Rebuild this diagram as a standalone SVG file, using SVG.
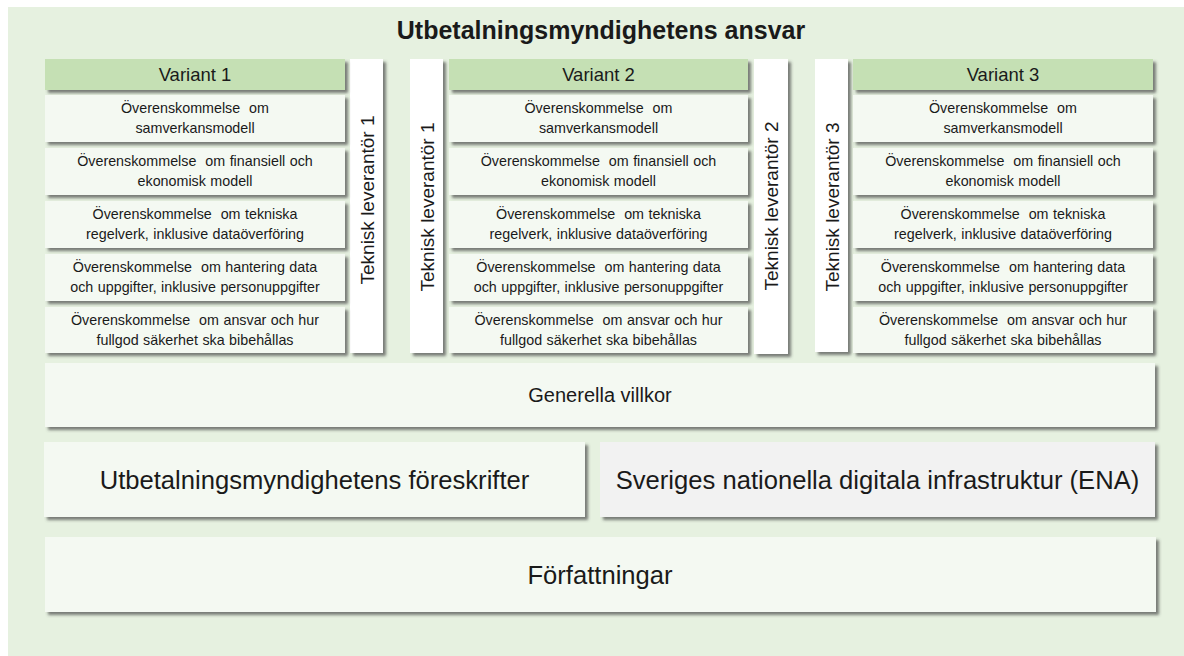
<svg xmlns="http://www.w3.org/2000/svg" width="1184" height="656" viewBox="0 0 1184 656">
<defs>
<filter id="sh" x="-10%" y="-10%" width="130%" height="140%">
<feDropShadow dx="3" dy="3" stdDeviation="1.5" flood-color="#4a4a4a" flood-opacity="0.7"/>
</filter>
</defs>
<style>
text{font-family:"Liberation Sans",Arial,sans-serif;fill:#1a1a1a;text-anchor:middle}
.hdr{fill:#c5e0b4;filter:url(#sh)}
.row{fill:#f4f9f2;filter:url(#sh)}
.tek{fill:#ffffff;filter:url(#sh)}
.ena{fill:#f2f2f2;filter:url(#sh)}
.t13{font-size:14.3px;word-spacing:0.5px}
.t16{font-size:18.5px}
.tv{font-size:19px}
.t22{font-size:25.6px}
</style>
<rect x="8" y="7" width="1176" height="649" fill="#e6f1e0"/>
<text x="601" y="39" style="font-size:25px;font-weight:bold">Utbetalningsmyndighetens ansvar</text>

<g id="tek1a"><rect class="tek" x="350" y="59" width="33" height="294"/><text class="tv" transform="translate(373.5 200) rotate(-90)">Teknisk leverantör 1</text></g>
<g id="tek1b"><rect class="tek" x="410" y="59" width="33" height="294"/><text class="tv" transform="translate(433.5 207) rotate(-90)">Teknisk leverantör 1</text></g>
<g id="tek2"><rect class="tek" x="754" y="59" width="34" height="295"/><text class="tv" transform="translate(778 206) rotate(-90)">Teknisk leverantör 2</text></g>
<g id="tek3"><rect class="tek" x="815" y="59" width="33" height="293"/><text class="tv" transform="translate(838.5 207) rotate(-90)">Teknisk leverantör 3</text></g>

<g id="variant1">
<rect class="hdr" x="45" y="59" width="300" height="31"/><text class="t16" x="195" y="81">Variant 1</text>
<rect class="row" x="45" y="95" width="300" height="47"/><text class="t13" x="195" y="113" xml:space="preserve">Överenskommelse  om</text><text class="t13" x="195" y="133">samverkansmodell</text>
<rect class="row" x="45" y="148" width="300" height="47"/><text class="t13" x="195" y="166" xml:space="preserve">Överenskommelse  om finansiell och</text><text class="t13" x="195" y="186">ekonomisk modell</text>
<rect class="row" x="45" y="201" width="300" height="47"/><text class="t13" x="195" y="219" xml:space="preserve">Överenskommelse  om tekniska</text><text class="t13" x="195" y="239">regelverk, inklusive dataöverföring</text>
<rect class="row" x="45" y="254" width="300" height="47"/><text class="t13" x="195" y="272" xml:space="preserve">Överenskommelse  om hantering data</text><text class="t13" x="195" y="292">och uppgifter, inklusive personuppgifter</text>
<rect class="row" x="45" y="307" width="300" height="46"/><text class="t13" x="195" y="325" xml:space="preserve">Överenskommelse  om ansvar och hur</text><text class="t13" x="195" y="345">fullgod säkerhet ska bibehållas</text>
</g>

<g id="variant2">
<rect class="hdr" x="449" y="59" width="299" height="31"/><text class="t16" x="598.5" y="81">Variant 2</text>
<rect class="row" x="449" y="95" width="299" height="47"/><text class="t13" x="598.5" y="113" xml:space="preserve">Överenskommelse  om</text><text class="t13" x="598.5" y="133">samverkansmodell</text>
<rect class="row" x="449" y="148" width="299" height="47"/><text class="t13" x="598.5" y="166" xml:space="preserve">Överenskommelse  om finansiell och</text><text class="t13" x="598.5" y="186">ekonomisk modell</text>
<rect class="row" x="449" y="201" width="299" height="47"/><text class="t13" x="598.5" y="219" xml:space="preserve">Överenskommelse  om tekniska</text><text class="t13" x="598.5" y="239">regelverk, inklusive dataöverföring</text>
<rect class="row" x="449" y="254" width="299" height="47"/><text class="t13" x="598.5" y="272" xml:space="preserve">Överenskommelse  om hantering data</text><text class="t13" x="598.5" y="292">och uppgifter, inklusive personuppgifter</text>
<rect class="row" x="449" y="307" width="299" height="46"/><text class="t13" x="598.5" y="325" xml:space="preserve">Överenskommelse  om ansvar och hur</text><text class="t13" x="598.5" y="345">fullgod säkerhet ska bibehållas</text>
</g>

<g id="variant3">
<rect class="hdr" x="853" y="59" width="300" height="31"/><text class="t16" x="1003" y="81">Variant 3</text>
<rect class="row" x="853" y="95" width="300" height="47"/><text class="t13" x="1003" y="113" xml:space="preserve">Överenskommelse  om</text><text class="t13" x="1003" y="133">samverkansmodell</text>
<rect class="row" x="853" y="148" width="300" height="47"/><text class="t13" x="1003" y="166" xml:space="preserve">Överenskommelse  om finansiell och</text><text class="t13" x="1003" y="186">ekonomisk modell</text>
<rect class="row" x="853" y="201" width="300" height="47"/><text class="t13" x="1003" y="219" xml:space="preserve">Överenskommelse  om tekniska</text><text class="t13" x="1003" y="239">regelverk, inklusive dataöverföring</text>
<rect class="row" x="853" y="254" width="300" height="47"/><text class="t13" x="1003" y="272" xml:space="preserve">Överenskommelse  om hantering data</text><text class="t13" x="1003" y="292">och uppgifter, inklusive personuppgifter</text>
<rect class="row" x="853" y="307" width="300" height="46"/><text class="t13" x="1003" y="325" xml:space="preserve">Överenskommelse  om ansvar och hur</text><text class="t13" x="1003" y="345">fullgod säkerhet ska bibehållas</text>
</g>

<g id="generella"><rect class="row" x="45" y="363" width="1110" height="64"/><text x="600" y="402" style="font-size:20px">Generella villkor</text></g>
<g id="foreskrifter"><rect class="row" x="44" y="442" width="541" height="75"/><text class="t22" x="314.5" y="489">Utbetalningsmyndighetens föreskrifter</text></g>
<g id="ena"><rect class="ena" x="600" y="442" width="555" height="75"/><text class="t22" x="877.5" y="489">Sveriges nationella digitala infrastruktur (ENA)</text></g>
<g id="forfattningar"><rect class="row" x="45" y="537" width="1111" height="75"/><text class="t22" x="600" y="584">Författningar</text></g>
<g id="connectors"></g>
</svg>
